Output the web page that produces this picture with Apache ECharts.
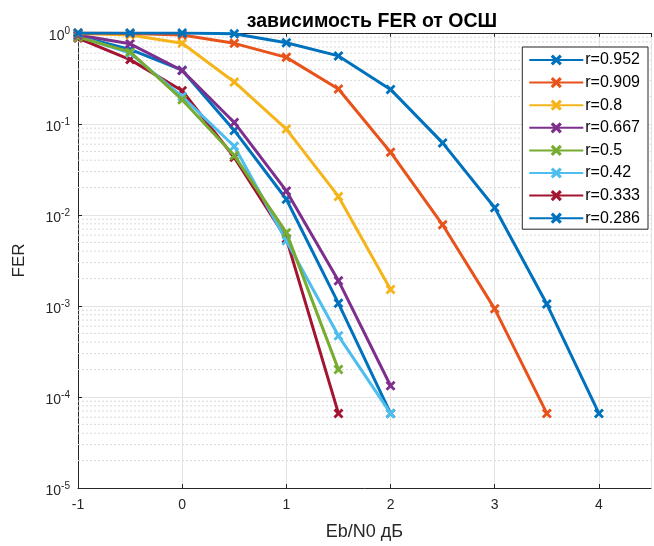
<!DOCTYPE html>
<html><head><meta charset="utf-8">
<script src="https://cdn.jsdelivr.net/npm/echarts@6/dist/echarts.min.js"></script>
<style>html,body{margin:0;padding:0;background:#fff}#c{width:654px;height:546px}</style>
</head><body><div id="c"></div>
<script>
const xVals = [-1, -0.5, 0, 0.5, 1, 1.5, 2, 2.5, 3, 3.5, 4];
const seriesNames = ['r=0.952','r=0.909','r=0.8','r=0.667','r=0.5','r=0.42','r=0.333','r=0.286'];
const r952 = [1, 1, 1, 0.98, 0.78, 0.56, 0.24, 0.062, 0.012, 1.05e-3, 6.6e-5];
const r909 = [1, 0.99, 0.95, 0.77, 0.54, 0.242, 0.049, 7.8e-3, 9.3e-4, 6.6e-5];
const r800 = [0.99, 0.95, 0.77, 0.29, 0.088, 0.016, 1.52e-3];
const r667 = [0.95, 0.76, 0.387, 0.104, 0.0184, 1.9e-3, 1.33e-4];
const r500 = [0.9, 0.62, 0.185, 0.045, 6.4e-3, 2.0e-4];
const r420 = [0.92, 0.6, 0.2, 0.057, 5.2e-3, 4.7e-4, 6.6e-5];
const r333 = [0.88, 0.51, 0.232, 0.043, 5.5e-3, 6.6e-5];
const r286 = [0.93, 0.66, 0.39, 0.085, 0.0149, 1.07e-3, 6.6e-5];
const xTicks = [-1, 0, 1, 2, 3, 4];
const xMin = -1, xMax = 4.5;
const colors = ['#0072BD','#E8531C','#F5B41A','#7E2F8E','#77AC30','#4DBEEE','#A2142F','#0072BD'];
const allData = [r952, r909, r800, r667, r500, r420, r333, r286];

const minorVals = [];
for (let e = -5; e <= -1; e++) for (let k = 2; k <= 9; k++) minorVals.push(k * Math.pow(10, e));

const xSym = 'path://M2,0 L5,3 L8,0 L10,2 L7,5 L10,8 L8,10 L5,7 L2,10 L0,8 L3,5 L0,2 Z';
const txt = '#262626';
const font = 'Liberation Sans, Arial, sans-serif';

const series = [];
minorVals.forEach(v => {
  series.push({
    type: 'line', data: [[xMin, v], [xMax, v]], silent: true, symbol: 'none',
    lineStyle: { type: [2, 2], color: '#d9d9d9', width: 1 }, z: 1, animation: false
  });
});
allData.forEach((d, i) => {
  series.push({
    name: seriesNames[i], type: 'line',
    data: d.map((v, j) => [xVals[j], v]),
    symbol: xSym, symbolSize: 10, showSymbol: true,
    lineStyle: { width: 3, color: colors[i] },
    itemStyle: { color: colors[i] },
    z: 10 + (8 - i),
    animation: false
  });
});

const chart = echarts.init(document.getElementById('c'), null, { renderer: 'canvas' });
chart.setOption({
  backgroundColor: '#fff',
  animation: false,
  color: colors,
  title: {
    text: 'зависимость FER от ОСШ', left: 367, textAlign: 'center', top: 7,
    textStyle: { fontFamily: font, fontSize: 19.5, fontWeight: 'bold', color: '#000' }
  },
  grid: { left: 78, top: 33, width: 573, height: 457, show: false },
  legend: {
    data: seriesNames, orient: 'vertical', right: 6, top: 47,
    backgroundColor: '#fff', borderColor: txt, borderWidth: 1, borderRadius: 0,
    padding: [5, 8, 3, 6], itemWidth: 54, itemHeight: 14, itemGap: 6.6,
    textStyle: { fontFamily: font, fontSize: 16, lineHeight: 16, color: '#000', padding: [0, 0, 0, -3] },
    z: 50
  },
  xAxis: [{
    type: 'value', min: xMin, max: xMax, interval: 1, position: 'bottom',
    name: 'Eb/N0 дБ', nameLocation: 'middle', nameGap: 35,
    nameTextStyle: { fontFamily: font, fontSize: 18, color: txt },
    axisLine: { show: true, onZero: false, lineStyle: { color: txt } },
    axisTick: { show: true, inside: true, length: 4, lineStyle: { color: txt } },
    axisLabel: { fontFamily: font, fontSize: 14, color: txt, margin: 10, showMaxLabel: false,
      formatter: v => (xTicks.indexOf(v) >= 0 ? String(v) : '') },
    splitLine: { show: true, lineStyle: { color: '#e3e3e3', width: 1 } }
  }, {
    type: 'value', min: xMin, max: xMax, interval: 1, position: 'top',
    axisLine: { show: true, onZero: false, lineStyle: { color: txt } },
    axisTick: { show: true, inside: true, length: 4, lineStyle: { color: txt } },
    axisLabel: { show: false }, splitLine: { show: false }
  }],
  yAxis: [{
    type: 'log', logBase: 10, min: 1e-5, max: 1,
    name: 'FER', nameLocation: 'middle', nameGap: 50,
    nameTextStyle: { fontFamily: font, fontSize: 17, color: txt },
    axisLine: { show: true, onZero: false, lineStyle: { color: txt } },
    axisTick: { show: true, inside: true, length: 4, lineStyle: { color: txt } },
    axisLabel: {
      fontFamily: font, fontSize: 14, color: txt, margin: 8, padding: [6, 0, 0, 0],
      formatter: v => '10{e|' + Math.round(Math.log10(v)) + '}',
      rich: { e: { fontSize: 10, fontFamily: font, color: txt, verticalAlign: 'top', padding: [0, 0, 10, 0] } }
    },
    splitLine: { show: true, lineStyle: { color: '#e3e3e3', width: 1 } }
  }],
  series: series
});
</script></body></html>
